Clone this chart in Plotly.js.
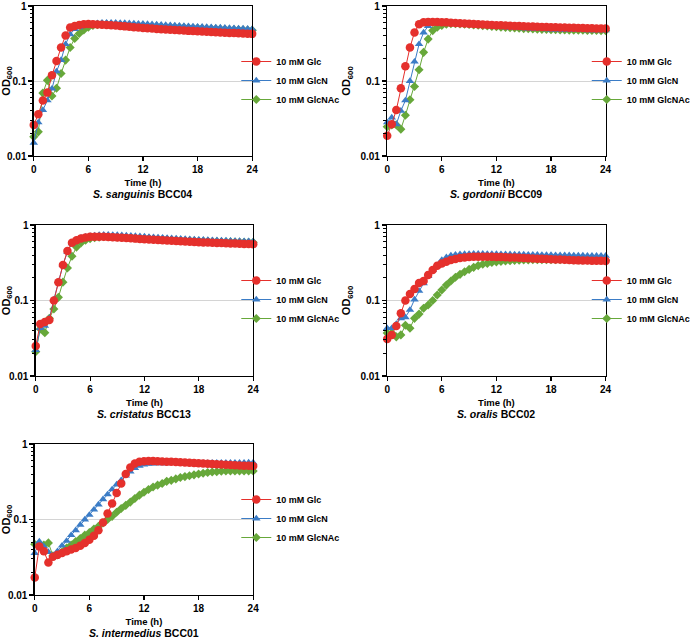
<!DOCTYPE html>
<html>
<head>
<meta charset="utf-8">
<script src="https://cdn.plot.ly/plotly-3.0.1.min.js"></script>
<style>html,body{margin:0;padding:0;background:#fff;}#chart{width:696px;height:638px;}</style>
</head>
<body>
<div id="chart"></div>
<script>
const timeH = [0,0.5,1,1.5,2,2.5,3,3.5,4,4.5,5,5.5,
  6,6.5,7,7.5,8,8.5,9,9.5,10,10.5,11,11.5,
  12,12.5,13,13.5,14,14.5,15,15.5,16,16.5,17,17.5,
  18,18.5,19,19.5,20,20.5,21,21.5,22,22.5,23,23.5,24];

const seriesNames = ["10 mM Glc", "10 mM GlcN", "10 mM GlcNAc"];
const xTicks = [0, 6, 12, 18, 24];
const yTicks = [0.01, 0.1, 1];
const yTickText = ["0.01", "0.1", "1"];
const yMinorTicks = [0.02,0.03,0.04,0.05,0.06,0.07,0.08,0.09,0.2,0.3,0.4,0.5,0.6,0.7,0.8,0.9];

const speciesNames = ["S. sanguinis", "S. gordonii", "S. cristatus", "S. oralis", "S. intermedius"];
const strainNames = ["BCC04", "BCC09", "BCC13", "BCC02", "BCC01"];

// S. sanguinis BCC04
const sanguinisGlc = [0.026,0.036,0.055,0.070,0.119,0.185,0.28,0.405,0.515,0.54,0.56,0.57,
  0.575,0.572,0.568,0.564,0.56,0.555,0.55,0.542,0.535,0.528,0.522,0.516,
  0.51,0.505,0.50,0.495,0.49,0.486,0.482,0.478,0.474,0.47,0.466,0.463,
  0.46,0.456,0.453,0.45,0.447,0.444,0.441,0.438,0.435,0.432,0.43,0.427,0.425];
const sanguinisGlcN = [0.015,0.028,0.041,0.055,0.079,0.134,0.19,0.31,0.42,0.49,0.52,0.54,
  0.56,0.575,0.59,0.60,0.60,0.60,0.598,0.595,0.592,0.588,0.585,0.582,
  0.578,0.574,0.57,0.566,0.562,0.558,0.554,0.55,0.546,0.542,0.538,0.534,
  0.53,0.527,0.524,0.521,0.518,0.515,0.512,0.509,0.506,0.503,0.50,0.497,0.494];
const sanguinisGlcNAc = [0.018,0.021,0.069,0.102,0.063,0.080,0.126,0.19,0.28,0.37,0.43,0.48,
  0.52,0.55,0.565,0.57,0.57,0.568,0.565,0.562,0.558,0.555,0.552,0.548,
  0.545,0.542,0.538,0.535,0.532,0.528,0.525,0.522,0.519,0.516,0.513,0.51,
  0.507,0.504,0.501,0.498,0.495,0.492,0.489,0.486,0.484,0.482,0.48,0.478,0.476];

// S. gordonii BCC09
const gordoniiGlc = [0.0186,0.0265,0.041,0.080,0.157,0.28,0.443,0.572,0.605,0.61,0.61,0.61,
  0.608,0.605,0.60,0.595,0.59,0.585,0.58,0.575,0.57,0.566,0.562,0.558,
  0.555,0.552,0.549,0.546,0.543,0.54,0.537,0.534,0.531,0.528,0.526,0.524,
  0.522,0.52,0.518,0.516,0.514,0.512,0.51,0.508,0.506,0.504,0.502,0.50,0.50];
const gordoniiGlcN = [0.028,0.0325,0.0265,0.040,0.055,0.10,0.181,0.31,0.443,0.54,0.58,0.595,
  0.60,0.598,0.594,0.588,0.582,0.575,0.568,0.56,0.553,0.546,0.54,0.534,
  0.528,0.523,0.518,0.514,0.51,0.506,0.502,0.499,0.496,0.493,0.49,0.488,
  0.486,0.484,0.482,0.48,0.479,0.478,0.477,0.476,0.475,0.474,0.473,0.472,0.472];
const gordoniiGlcNAc = [0.0245,0.026,0.026,0.0228,0.0349,0.0563,0.0845,0.141,0.241,0.362,0.47,0.52,
  0.55,0.57,0.58,0.58,0.578,0.572,0.566,0.56,0.553,0.546,0.54,0.534,
  0.528,0.522,0.517,0.512,0.508,0.504,0.50,0.497,0.494,0.491,0.488,0.486,
  0.484,0.482,0.48,0.478,0.477,0.476,0.475,0.474,0.473,0.472,0.471,0.47,0.47];

// S. cristatus BCC13
const cristatusGlc = [0.025,0.049,0.052,0.055,0.10,0.174,0.295,0.453,0.583,0.63,0.665,0.685,
  0.70,0.70,0.70,0.698,0.695,0.69,0.684,0.678,0.672,0.666,0.66,0.654,
  0.648,0.642,0.637,0.632,0.627,0.622,0.617,0.612,0.608,0.604,0.60,0.596,
  0.592,0.588,0.585,0.582,0.579,0.576,0.573,0.57,0.567,0.564,0.562,0.56,0.558];
const cristatusGlcN = [0.022,0.043,0.046,0.058,0.103,0.18,0.294,0.44,0.57,0.64,0.68,0.70,
  0.715,0.725,0.735,0.74,0.74,0.738,0.735,0.73,0.725,0.72,0.714,0.708,
  0.702,0.696,0.69,0.684,0.678,0.672,0.667,0.662,0.657,0.652,0.648,0.644,
  0.64,0.636,0.633,0.63,0.627,0.624,0.621,0.618,0.615,0.613,0.611,0.61,0.608];
const cristatusGlcNAc = [0.021,0.042,0.0375,0.058,0.077,0.11,0.175,0.27,0.385,0.51,0.58,0.63,
  0.66,0.68,0.69,0.70,0.70,0.698,0.695,0.69,0.685,0.68,0.675,0.67,
  0.665,0.66,0.655,0.65,0.645,0.64,0.636,0.632,0.628,0.624,0.62,0.617,
  0.614,0.611,0.608,0.605,0.603,0.601,0.599,0.597,0.595,0.593,0.591,0.59,0.589];

// S. oralis BCC02
const oralisGlc = [0.031,0.035,0.046,0.068,0.10,0.122,0.142,0.17,0.181,0.218,0.253,0.289,
  0.31,0.327,0.344,0.355,0.365,0.372,0.376,0.379,0.38,0.38,0.38,0.379,
  0.378,0.376,0.374,0.372,0.37,0.368,0.365,0.362,0.36,0.358,0.356,0.354,
  0.352,0.35,0.348,0.346,0.344,0.342,0.34,0.339,0.338,0.337,0.336,0.335,0.334];
const oralisGlcN = [0.043,0.043,0.049,0.058,0.060,0.075,0.103,0.134,0.169,0.21,0.253,0.29,
  0.344,0.373,0.395,0.405,0.41,0.412,0.414,0.415,0.415,0.415,0.414,0.413,
  0.412,0.411,0.41,0.409,0.408,0.407,0.406,0.405,0.404,0.403,0.402,0.401,
  0.40,0.399,0.398,0.397,0.396,0.395,0.394,0.393,0.392,0.391,0.39,0.39,0.39];
const oralisGlcNAc = [0.037,0.037,0.033,0.035,0.047,0.043,0.058,0.066,0.079,0.087,0.10,0.118,
  0.138,0.16,0.181,0.203,0.222,0.24,0.258,0.275,0.29,0.302,0.31,0.318,
  0.325,0.33,0.334,0.337,0.34,0.342,0.344,0.345,0.346,0.347,0.347,0.347,
  0.347,0.347,0.347,0.346,0.346,0.345,0.345,0.344,0.344,0.343,0.343,0.342,0.342];

// S. intermedius BCC01
const intermediusGlc = [0.017,0.044,0.038,0.027,0.032,0.034,0.036,0.038,0.040,0.042,0.045,0.049,
  0.054,0.061,0.072,0.091,0.12,0.163,0.225,0.30,0.40,0.49,0.55,0.58,
  0.59,0.595,0.595,0.592,0.588,0.584,0.58,0.576,0.572,0.568,0.564,0.56,
  0.556,0.552,0.548,0.544,0.54,0.536,0.532,0.528,0.524,0.52,0.517,0.514,0.51];
const intermediusGlcN = [0.036,0.051,0.044,0.037,0.033,0.038,0.045,0.052,0.062,0.072,0.085,0.10,
  0.115,0.135,0.158,0.185,0.215,0.25,0.29,0.33,0.38,0.43,0.48,0.515,
  0.535,0.545,0.55,0.553,0.555,0.556,0.557,0.558,0.559,0.56,0.56,0.561,
  0.561,0.562,0.562,0.563,0.563,0.564,0.564,0.565,0.565,0.566,0.566,0.567,0.567];
const intermediusGlcNAc = [0.047,0.045,0.046,0.049,0.033,0.034,0.037,0.042,0.046,0.051,0.056,0.062,
  0.067,0.075,0.081,0.09,0.10,0.11,0.125,0.14,0.154,0.17,0.19,0.21,
  0.23,0.25,0.27,0.285,0.30,0.32,0.33,0.345,0.36,0.37,0.38,0.39,
  0.40,0.41,0.42,0.425,0.43,0.435,0.438,0.44,0.44,0.44,0.44,0.44,0.44];

const panelData = [
  [sanguinisGlc, sanguinisGlcN, sanguinisGlcNAc],
  [gordoniiGlc, gordoniiGlcN, gordoniiGlcNAc],
  [cristatusGlc, cristatusGlcN, cristatusGlcNAc],
  [oralisGlc, oralisGlcN, oralisGlcNAc],
  [intermediusGlc, intermediusGlcN, intermediusGlcNAc]
];

// ---------- STYLE / LAYOUT ----------
const W = 696, H = 638;
const FONT = "Liberation Sans, Arial, Helvetica, sans-serif";
const colors = ["#e5302c", "#3b7cc6", "#67a83a"];
const symbols = ["circle", "triangle-up", "diamond"];
const sizes = [8.5, 7.5, 7];
// plot-area boxes in pixels: [left, right, top, bottom]
const boxes = [
  [34, 254, 6, 156],
  [390, 610, 6, 156],
  [36, 255, 225, 376],
  [390, 610, 225, 376],
  [35, 255, 444, 595]
];
const legendPos = [[238, 47], [591, 47], [238, 266], [591, 266], [238, 485]];

const traces = [];
const layout = {
  width: W, height: H,
  margin: {l: 0, r: 0, t: 0, b: 0},
  paper_bgcolor: "#fff", plot_bgcolor: "#fff",
  font: {family: FONT, color: "#000"},
  showlegend: true,
  annotations: []
};

boxes.forEach((b, p) => {
  const sfx = p === 0 ? "" : String(p + 1);
  const xa = "x" + sfx, ya = "y" + sfx;
  const leg = "legend" + sfx;
  // draw order: GlcNAc, GlcN, Glc (Glc on top); legend order fixed by legendrank
  for (let s = 2; s >= 0; s--) {
    traces.push({
      type: "scatter", mode: "lines+markers",
      x: timeH, y: panelData[p][s],
      xaxis: xa, yaxis: ya, legend: leg,
      name: seriesNames[s], legendrank: s + 1,
      cliponaxis: false,
      line: {color: colors[s], width: 1},
      marker: {color: colors[s], symbol: symbols[s], size: sizes[s], line: {width: 0}}
    });
  }
  layout["xaxis" + sfx] = {
    domain: [b[0] / W, b[1] / W], anchor: ya,
    range: [0, 24], tickmode: "array", tickvals: xTicks,
    ticks: "outside", ticklen: 4, tickwidth: 1.2, tickcolor: "#000",
    showline: true, linecolor: "#000", linewidth: 1.3, mirror: true,
    showgrid: false, zeroline: false,
    tickfont: {family: FONT, size: 10, color: "#000", weight: "bold"},
    title: {text: "Time (h)", font: {family: FONT, size: 9.5, color: "#000", weight: "bold"}, standoff: 5}
  };
  layout["yaxis" + sfx] = {
    domain: [1 - b[3] / H, 1 - b[2] / H], anchor: xa,
    type: "log", range: [-2, 0],
    tickmode: "array", tickvals: yTicks, ticktext: yTickText,
    ticks: "outside", ticklen: 4, tickwidth: 1.2, tickcolor: "#000",
    minor: {tickmode: "array", tickvals: yMinorTicks, ticks: "outside", ticklen: 2.5, tickwidth: 1, tickcolor: "#000", showgrid: false},
    showline: true, linecolor: "#000", linewidth: 1.3, mirror: true,
    showgrid: true, gridcolor: "#d4d4d4", gridwidth: 1, zeroline: false,
    tickfont: {family: FONT, size: 10, color: "#000", weight: "bold"},
    title: {text: "OD<sub>600</sub>", font: {family: FONT, size: 11, color: "#000", weight: "bold"}, standoff: 7}
  };
  layout[leg] = {
    x: legendPos[p][0] / W, y: 1 - legendPos[p][1] / H,
    xanchor: "left", yanchor: "top",
    bgcolor: "rgba(0,0,0,0)", borderwidth: 0,
    font: {family: FONT, size: 9, color: "#000", weight: "bold"},
    traceorder: "normal", tracegroupgap: 0
  };
  layout.annotations.push({
    xref: "paper", yref: "paper",
    x: (b[0] + b[1]) / 2 / W, y: 1 - (b[3] + 38) / H,
    xanchor: "center", yanchor: "middle", showarrow: false,
    text: "<i>" + speciesNames[p] + "</i> " + strainNames[p],
    font: {family: FONT, size: 10.5, color: "#000", weight: "bold"}
  });
});

Plotly.newPlot("chart", traces, layout, {displayModeBar: false, staticPlot: true});
</script>
</body>
</html>
